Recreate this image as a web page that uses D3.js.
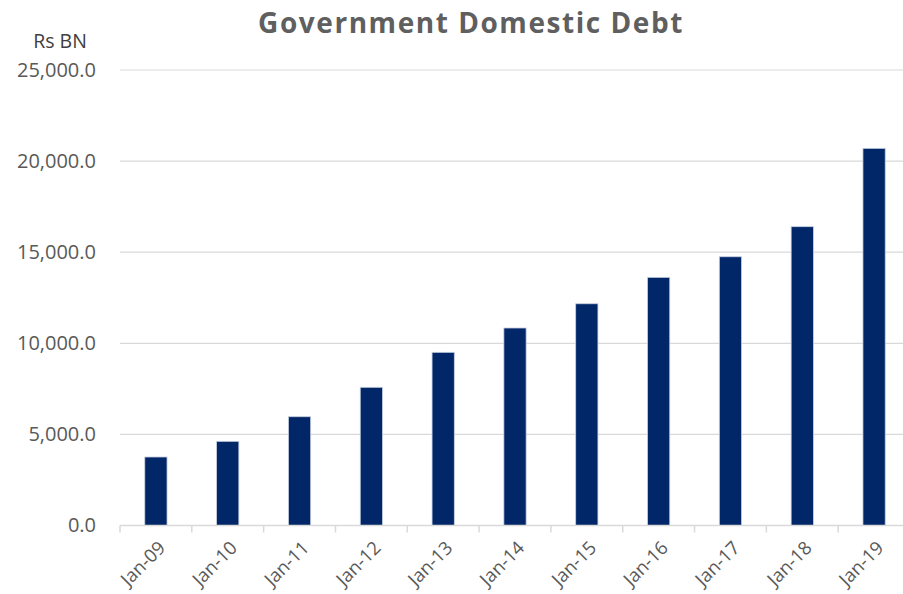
<!DOCTYPE html>
<html><head><meta charset="utf-8">
<script src="https://cdn.jsdelivr.net/npm/d3@7"></script>
<style>body{margin:0;background:#fff;} svg{display:block;}</style>
</head><body>
<svg id="c" width="903" height="594"></svg>
<script>
const categories = ["Jan-09","Jan-10","Jan-11","Jan-12","Jan-13","Jan-14","Jan-15","Jan-16","Jan-17","Jan-18","Jan-19"];
const debtValues = [3760, 4620, 5970, 7585, 9505, 10840, 12170, 13620, 14750, 16400, 20700];
const yTicks = [0, 5000, 10000, 15000, 20000, 25000];
const titleText = "Government Domestic Debt";
const unitText = "Rs BN";

const svg = d3.select("#c");
const x = d3.scaleBand().domain(categories).range([120, 910]).paddingInner(0.69).paddingOuter(0.345);
const y = d3.scaleLinear().domain([0, 25000]).range([525.5, 70]);
const font = "'Open Sans', 'Noto Sans', sans-serif";
const grey = "#595959";

// gridlines
svg.append("g").selectAll("line").data(yTicks.filter(d => d > 0)).join("line")
  .attr("x1", 120).attr("x2", 903).attr("y1", d => y(d)).attr("y2", d => y(d))
  .attr("stroke", "#d9d9d9").attr("stroke-width", 1.2);

// y axis labels
const yAxis = d3.axisLeft(y).tickValues(yTicks).tickSize(0).tickPadding(0)
  .tickFormat(d => d3.format(",.1f")(d));
const gy = svg.append("g").attr("transform", "translate(96,0)").call(yAxis);
gy.select(".domain").remove();
gy.selectAll("text").style("fill", grey).style("font-size", "20px").style("font-family", font);

// bars
svg.append("g").selectAll("rect").data(debtValues).join("rect")
  .attr("x", (d, i) => x(categories[i]))
  .attr("width", x.bandwidth())
  .attr("y", d => y(d))
  .attr("height", d => y(0) - y(d))
  .attr("fill", "#012769")
  .attr("stroke", "#c9d0e0").attr("stroke-width", 0.8);

// x axis
const step = x.step();
const gx = svg.append("g").attr("transform", `translate(0,${y(0)})`);
gx.append("line").attr("x1", 120).attr("x2", 903).attr("y1", 0).attr("y2", 0)
  .attr("stroke", "#d9d9d9").attr("stroke-width", 1.5);
gx.selectAll("line.tk").data(categories).join("line").attr("class", "tk")
  .attr("x1", d => x(d) - (step - x.bandwidth()) / 2)
  .attr("x2", d => x(d) - (step - x.bandwidth()) / 2)
  .attr("y1", 0).attr("y2", 7).attr("stroke", "#d9d9d9").attr("stroke-width", 1.5);
gx.selectAll("text").data(categories).join("text")
  .attr("transform", d => `translate(${x(d) + x.bandwidth() / 2 + 6},${19}) rotate(-45)`)
  .attr("text-anchor", "end").attr("dy", "0.35em")
  .style("fill", grey).style("font-size", "18.5px").style("font-family", font)
  .text(d => d);

// title
svg.append("text").attr("x", 471).attr("y", 33).attr("text-anchor", "middle")
  .style("font-family", font).style("font-weight", "bold").style("font-size", "28px")
  .style("letter-spacing", "1.55px")
  .style("fill", "#5f5f5f").text(titleText);

svg.append("text").attr("x", 60).attr("y", 48).attr("text-anchor", "middle")
  .style("font-family", font).style("font-size", "19.5px").style("fill", "#404040").text(unitText);
</script>
</body></html>
